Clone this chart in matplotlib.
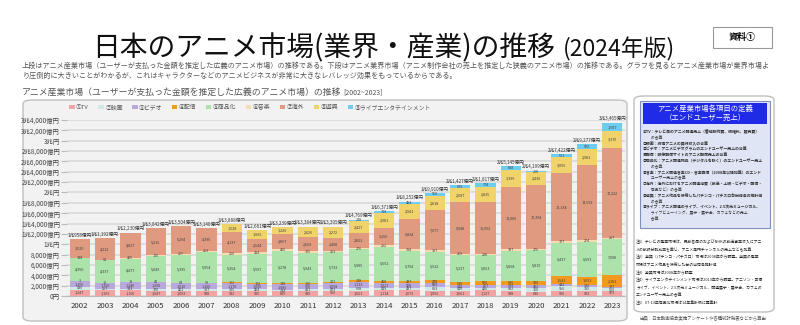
import matplotlib.pyplot as plt
from matplotlib.patches import FancyBboxPatch, Rectangle
import numpy as np

plt.rcParams['font.family'] = ['Noto Sans CJK JP', 'DejaVu Sans']

years = [str(y) for y in range(2002, 2024)]
categories = ['①TV', '②映画', '③ビデオ', '④配信', '⑤商品化', '⑥音楽', '⑦海外', '⑧遊興',
              '⑨ライブエンタテインメント']
colors = ['#f4a3a3', '#cfeae6', '#b9a8dc', '#f29a1f', '#abe3ab', '#f7dcb2', '#df9a80',
          '#f1d36b', '#6ccdf0']

# 億円
tv = [1247, 1165, 1100, 1047, 1003, 938, 942, 915, 885, 930, 966, 1021, 1114, 1073, 1056,
      1061, 1127, 948, 840, 906, 943, 973]
movie = [430, 257, 343, 370, 421, 397, 395, 404, 344, 411, 473, 608, 419, 437, 663, 410,
         426, 692, 720, 956, 785, 550]
video = [1265, 1150, 1240, 1200, 1010, 1100, 1170, 1000, 1085, 900, 1058, 1133, 1021, 928,
         839, 640, 667, 539, 492, 442, 385, 307]
dist = [3, 10, 18, 41, 84, 98, 102, 122, 148, 180, 223, 248, 408, 437, 478, 546, 595, 685,
        930, 1543, 1652, 2181]
merch = [4350, 4337, 4477, 5049, 5395, 5954, 5364, 5597, 6278, 5943, 5732, 5985, 6552, 5794,
         5522, 5237, 5063, 5868, 5819, 6437, 6693, 7008]
music = [138, 61, 225, 120, 297, 263, 250, 414, 406, 325, 263, 276, 292, 324, 307, 269, 238,
         337, 276, 377, 274, 267]
overseas = [3525, 4212, 4827, 5215, 5294, 4390, 4137, 2544, 2867, 2669, 2408, 2823, 3266,
            5834, 7677, 9948, 10092, 12009, 12394, 13134, 14592, 17222]
pachinko = [0, 0, 0, 0, 0, 0, 1528, 1665, 1226, 2026, 2272, 2427, 2981, 2941, 2818, 2687,
            2835, 3199, 2430, 3056, 2981, 3370]
live = [0, 0, 0, 0, 0, 0, 0, 0, 0, 0, 0, 248, 318, 484, 550, 629, 774, 868, 298, 571, 972,
        1587]

series = [tv, movie, video, dist, merch, music, overseas, pachinko, live]

definitions = [
    '①TV：テレビ局のアニメ関連売上（番組制作費、版権料、販売費）',
    '　　の合算',
    '②映画：劇場アニメの興行収入の合算',
    '③ビデオ：アニメビデオグラムのエンドユーザー売上の合算',
    '④配信：映像配信サイトのアニメ配信売上の合算',
    '⑤商品化：アニメ関連物品（デジタルを除く）のエンドユーザー売上',
    '　　の合算',
    '⑥音楽：アニメ関連音楽CD・音楽配信（2008年以降加算）のエンド',
    '　　ユーザー売上の合算',
    '⑦海外：海外におけるアニメ関連消費（放送・上映・ビデオ・配信・',
    '　　商品など）の合算',
    '⑧遊興：アニメ作品を使用したパチンコ・パチスロ台出荷高の推計値',
    '　　の合算',
    '⑨ライブ：アニメ関連のライブ、イベント、2.5次元ミュージカル、',
    '　　ライブビューイング、展示・展示会、カフェなどの売上',
    '　　合算',
]
notes = [
    '注1）テレビの産業市場は、民放各局のおよびNHKの放送事業収入にアニ',
    'メの放映分割比率を乗じ、アニメ専門チャンネルの売上なども加算',
    '注2）遊興（パチンコ・パチスロ）市場は2008年から調査。遊興の産業',
    '市場はアニメ作品を使用した台の出荷高推計値',
    '注3）遊興市場は2008年から調査',
    '注4）ライブエンタテインメント市場は2013年から調査。アニソン・声優',
    'ライブ、イベント、2.5次元ミュージカル、関連展示・展示会、カフェの',
    'エンドユーザー売上の合算',
    '注5）07-13年商品化市場は14年集計例に再集計',
]


def fx(px):
    return px / 800


def fy(py):
    return 1 - py / 325


def oku(v):
    if v == 0:
        return '0円'
    cho, rest = divmod(int(v), 10000)
    if cho == 0:
        return f'{rest:,}億円'
    if rest == 0:
        return f'{cho}兆円'
    return f'{cho}兆{rest:,}億円'


fig = plt.figure(figsize=(8, 3.25), dpi=100)
fig.patch.set_facecolor('white')

# panel behind the chart
fig.patches.append(FancyBboxPatch((fx(23), fy(321)), fx(604), 221 / 325,
                                  boxstyle='round,pad=0,rounding_size=0.012',
                                  transform=fig.transFigure, facecolor='#f2f2f2',
                                  edgecolor='#bfbfbf', linewidth=1.0, zorder=-2))

# title
fig.text(fx(92), fy(56), '日本のアニメ市場(業界・産業)の推移', fontsize=20, ha='left',
         va='baseline', color='#111111')
fig.text(fx(563), fy(56), '(2024年版)', fontsize=16.5, ha='left', va='baseline',
         color='#111111')
fig.patches.append(Rectangle((fx(713), fy(48)), fx(59), 21 / 325, transform=fig.transFigure,
                             facecolor='white', edgecolor='#999999', linewidth=0.8))
fig.text(fx(742.5), fy(37.5), '資料①', fontsize=6.5, fontweight='bold', ha='center',
         va='center')

fig.text(fx(22), fy(66), '上段はアニメ産業市場（ユーザーが支払った金額を推定した広義のアニメ市場）の推移である。'
         '下段はアニメ業界市場（アニメ制作会社の売上を推定した狭義のアニメ市場）の推移である。'
         'グラフを見るとアニメ産業市場が業界市場よ', fontsize=5.1, color='#555555',
         va='center')
fig.text(fx(22), fy(76), 'り圧倒的に大きいことがわかるが、これはキャラクターなどのアニメビジネスが'
         '非常に大きなレバレッジ効果をもっているからである。', fontsize=5.1, color='#555555',
         va='center')
fig.text(fx(22), fy(92), 'アニメ産業市場（ユーザーが支払った金額を推定した広義のアニメ市場）の推移',
         fontsize=6.4, color='#555555', va='center')
fig.text(fx(343), fy(92.5), '[2002~2023]', fontsize=5, color='#555555', va='center')

# stacked bars
ax = fig.add_axes([fx(67), fy(296), fx(558), 176 / 325])
ax.set_facecolor('none')
x = np.arange(len(years))
bottom = np.zeros(len(years))
handles = []
for name, vals, col in zip(categories, series, colors):
    vals = np.array(vals, dtype=float)
    bars = ax.bar(x, vals, 0.8, bottom=bottom, color=col, label=name, zorder=3)
    handles.append(bars)
    for xi, v, b in zip(x, vals, bottom):
        if v > 0:
            ax.text(xi, b + v / 2, f'{int(v):,}', ha='center', va='center', fontsize=2.7,
                    color='#404040', zorder=4)
    bottom += vals

for xi, t in zip(x, bottom):
    ax.text(xi, t + 250, oku(t), ha='center', va='bottom', fontsize=3.3, color='#333333',
            zorder=4)

ax.set_xlim(-0.5, len(years) - 0.5)
ax.set_ylim(0, 34000)
ax.set_xticks(x)
ax.set_xticklabels(years, fontsize=5.6, color='#333333')
yt = np.arange(0, 34001, 2000)
ax.set_yticks(yt)
ax.set_yticklabels([oku(v) for v in yt], fontsize=4.6, color='#444444')
ax.grid(axis='y', color='#d9d9d9', linewidth=1.2, zorder=0)
for s in ['top', 'right', 'left']:
    ax.spines[s].set_visible(False)
ax.spines['bottom'].set_color('#bbbbbb')
ax.tick_params(axis='y', length=4, color='#bbbbbb', pad=1)
ax.tick_params(axis='x', length=0, pad=4)

fig.legend(handles=handles, loc='center left', bbox_to_anchor=(fx(64), fy(107)), ncol=9,
           fontsize=4.2, frameon=False, handlelength=0.9, handleheight=0.9,
           handletextpad=0.3, columnspacing=1.6, labelcolor='#555555')

# definitions box on the right
fig.patches.append(FancyBboxPatch((fx(634), fy(312)), fx(140), 216 / 325,
                                  boxstyle='round,pad=0,rounding_size=0.012',
                                  transform=fig.transFigure, facecolor='white',
                                  edgecolor='#bfbfbf', linewidth=1.0, zorder=-2))
fig.patches.append(Rectangle((fx(640), fy(228)), fx(130), 127 / 325, transform=fig.transFigure,
                             facecolor='#dfe5f5', edgecolor='#7f8fc0', linewidth=0.8))
fig.patches.append(Rectangle((fx(643), fy(124)), fx(124), 21 / 325, transform=fig.transFigure,
                             facecolor='#1f2be6', edgecolor='none'))
fig.text(fx(705), fy(113.5), 'アニメ産業市場各項目の定義\n（エンドユーザー売上）', fontsize=5.3,
         color='white', ha='center', va='center', linespacing=1.25)
for i, line in enumerate(definitions):
    fig.text(fx(643), fy(132 + i * 5.8), line, fontsize=2.8, color='#333333', va='center',
             fontweight='bold' if i in (0, 2, 3, 4, 5, 7, 9, 11, 13) else 'normal')
for i, line in enumerate(notes):
    fig.text(fx(636), fy(242 + i * 7.6), line, fontsize=2.8, color='#222222', va='center')
fig.text(fx(640), fy(319), '出典：日本動画協会実施アンケートや各種統計発表などから算出',
         fontsize=3.2, color='#555555', va='center')

fig.savefig('out.png', dpi=100)
